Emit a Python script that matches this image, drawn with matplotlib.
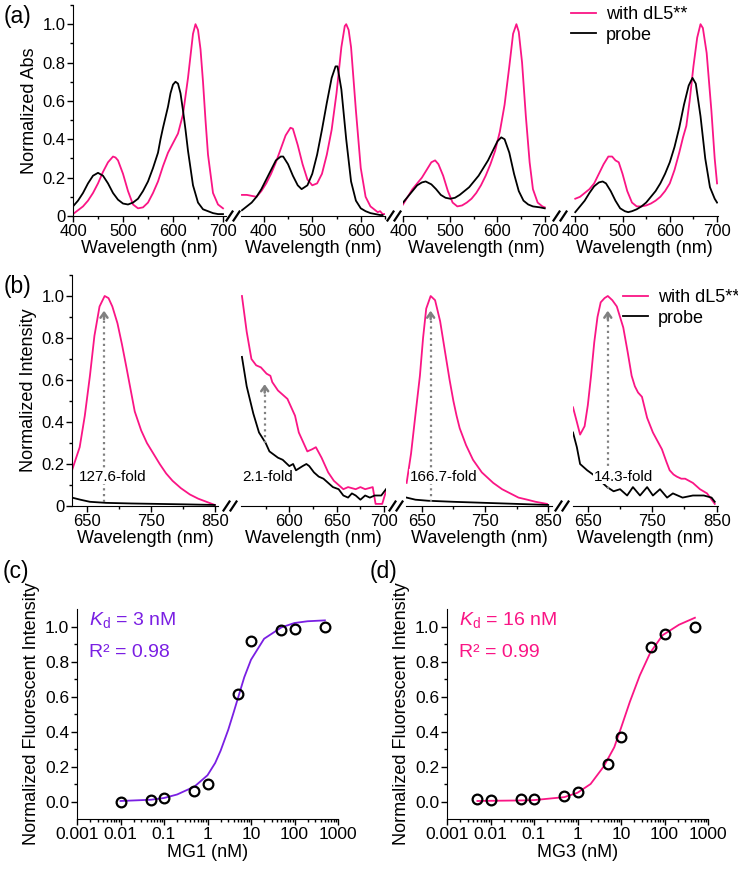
import matplotlib
matplotlib.use('Agg')
import matplotlib.pyplot as plt
from matplotlib.lines import Line2D
from matplotlib.ticker import MultipleLocator, FuncFormatter, FixedLocator, LogLocator, NullFormatter

plt.rcParams['font.family'] = ['Liberation Sans', 'DejaVu Sans']
plt.rcParams['mathtext.fontset'] = 'custom'
plt.rcParams['mathtext.rm'] = 'Liberation Sans'
plt.rcParams['mathtext.it'] = 'Liberation Sans:italic'

PINK = '#FA1585'
PURPLE = '#7A1FE3'
GREY = '#808080'

# ---------------- (a) absorbance spectra ----------------
a1_probe_wl = [400, 410, 420, 430, 440, 450, 460, 470, 480, 490, 500, 510, 520, 530, 540, 550, 560, 570, 575, 580,
               590, 595, 600, 605, 610, 615, 620, 625, 630, 640, 650, 660, 670, 680, 690, 700]
a1_probe_abs = [0.05, 0.08, 0.12, 0.17, 0.21, 0.225, 0.21, 0.17, 0.12, 0.085, 0.065, 0.06, 0.07, 0.09, 0.13, 0.18,
                0.25, 0.33, 0.40, 0.46, 0.57, 0.64, 0.685, 0.70, 0.69, 0.64, 0.55, 0.45, 0.34, 0.16, 0.07, 0.035,
                0.025, 0.015, 0.01, 0.01]
a1_dl5_wl = [400, 410, 420, 430, 440, 450, 460, 470, 480, 485, 490, 500, 510, 520, 530, 540, 550, 560, 570, 580,
             590, 600, 610, 620, 630, 640, 645, 650, 655, 660, 665, 670, 680, 690, 700]
a1_dl5_abs = [0.01, 0.03, 0.05, 0.08, 0.12, 0.17, 0.23, 0.28, 0.31, 0.305, 0.29, 0.22, 0.13, 0.06, 0.04, 0.045,
              0.07, 0.12, 0.18, 0.26, 0.33, 0.38, 0.43, 0.53, 0.72, 0.95, 1.0, 0.97, 0.87, 0.70, 0.50, 0.32, 0.12,
              0.06, 0.04]

a2_probe_wl = [355, 365, 375, 385, 395, 405, 415, 425, 435, 440, 450, 460, 470, 478, 490, 500, 510, 520, 530, 540,
               548, 552, 560, 570, 580, 590, 600, 610, 620, 630, 640, 645]
a2_probe_abs = [0.03, 0.05, 0.07, 0.10, 0.14, 0.19, 0.24, 0.29, 0.31, 0.31, 0.27, 0.21, 0.16, 0.14, 0.16, 0.22,
                0.32, 0.45, 0.59, 0.72, 0.78, 0.78, 0.66, 0.40, 0.18, 0.08, 0.04, 0.025, 0.015, 0.01, 0.005, 0.005]
a2_dl5_wl = [355, 365, 375, 385, 395, 405, 415, 425, 435, 445, 455, 460, 470, 480, 490, 500, 510, 520, 530, 540,
             550, 560, 567, 570, 575, 580, 590, 600, 610, 620, 630, 635, 640, 645, 650]
a2_dl5_abs = [0.11, 0.11, 0.105, 0.10, 0.13, 0.17, 0.22, 0.28, 0.35, 0.42, 0.46, 0.455, 0.37, 0.27, 0.19, 0.16,
              0.17, 0.22, 0.32, 0.45, 0.64, 0.88, 0.99, 1.0, 0.97, 0.88, 0.55, 0.25, 0.10, 0.05, 0.03, 0.02, 0.025,
              0.01, 0.01]

a3_probe_wl = [400, 410, 420, 430, 440, 448, 460, 470, 480, 490, 500, 510, 520, 530, 540, 550, 560, 570, 580, 590,
               600, 608, 615, 625, 635, 645, 655, 665, 675, 690, 700]
a3_probe_abs = [0.07, 0.10, 0.13, 0.16, 0.175, 0.18, 0.165, 0.14, 0.11, 0.095, 0.09, 0.095, 0.11, 0.13, 0.15, 0.18,
                0.21, 0.25, 0.29, 0.34, 0.39, 0.41, 0.40, 0.33, 0.22, 0.13, 0.08, 0.06, 0.05, 0.045, 0.04]
a3_dl5_wl = [400, 410, 420, 430, 440, 450, 460, 468, 475, 485, 495, 505, 515, 525, 535, 545, 555, 565, 575, 585,
             595, 605, 615, 625, 633, 640, 645, 652, 660, 668, 675, 685, 695, 700]
a3_dl5_abs = [0.06, 0.10, 0.14, 0.17, 0.20, 0.24, 0.28, 0.29, 0.27, 0.21, 0.13, 0.07, 0.05, 0.055, 0.07, 0.09,
              0.12, 0.16, 0.21, 0.27, 0.34, 0.44, 0.58, 0.78, 0.95, 1.0, 0.96, 0.80, 0.52, 0.28, 0.14, 0.07, 0.05,
              0.045]

a4_probe_wl = [400, 410, 420, 430, 440, 450, 458, 465, 475, 485, 495, 505, 512, 520, 530, 540, 550, 560, 570, 580,
               590, 600, 610, 620, 630, 640, 648, 655, 665, 675, 685, 695, 700]
a4_probe_abs = [0.02, 0.05, 0.08, 0.12, 0.155, 0.175, 0.18, 0.17, 0.13, 0.08, 0.04, 0.025, 0.02, 0.025, 0.035,
                0.05, 0.07, 0.10, 0.13, 0.17, 0.22, 0.28, 0.36, 0.46, 0.58, 0.68, 0.72, 0.69, 0.52, 0.30, 0.15,
                0.09, 0.07]
a4_dl5_wl = [400, 410, 420, 430, 440, 450, 460, 470, 478, 485, 492, 500, 510, 520, 530, 540, 550, 560, 570, 580,
             590, 600, 610, 620, 628, 635, 642, 650, 658, 665, 670, 678, 688, 695, 700]
a4_dl5_abs = [0.09, 0.10, 0.12, 0.14, 0.17, 0.22, 0.27, 0.31, 0.31, 0.29, 0.28, 0.22, 0.13, 0.07, 0.05, 0.05,
              0.055, 0.065, 0.08, 0.10, 0.13, 0.17, 0.24, 0.33, 0.41, 0.47, 0.60, 0.78, 0.93, 1.0, 0.98, 0.85,
              0.55, 0.30, 0.17]

# ---------------- (b) fluorescence spectra ----------------
b1_probe_wl = [627, 640, 655, 680, 720, 760, 800, 850]
b1_probe_int = [0.04, 0.03, 0.02, 0.015, 0.012, 0.01, 0.008, 0.005]
b1_dl5_wl = [627, 639, 647, 655, 662, 670, 678, 684, 690, 698, 705, 712, 725, 735, 744, 754, 764, 774, 784, 797,
             811, 824, 837, 850]
b1_dl5_int = [0.17, 0.28, 0.43, 0.62, 0.81, 0.95, 1.0, 0.99, 0.95, 0.87, 0.77, 0.66, 0.45, 0.36, 0.30, 0.25, 0.20,
              0.155, 0.12, 0.085, 0.055, 0.035, 0.02, 0.005]

b2_probe_wl = [550, 555, 562, 568, 575, 579, 582, 588, 593, 600, 604, 607, 614, 618, 621, 626, 631, 636, 641, 646,
               652, 657, 662, 666, 670, 675, 680, 685, 690, 697, 702]
b2_probe_int = [0.71, 0.57, 0.44, 0.35, 0.30, 0.26, 0.25, 0.23, 0.22, 0.19, 0.20, 0.17, 0.19, 0.20, 0.19, 0.16,
                0.14, 0.13, 0.11, 0.09, 0.08, 0.05, 0.04, 0.06, 0.05, 0.03, 0.05, 0.04, 0.05, 0.05, 0.08]
b2_dl5_wl = [550, 555, 560, 565, 570, 576, 580, 582, 588, 593, 598, 602, 606, 610, 615, 619, 624, 628, 634, 641,
             647, 652, 657, 662, 670, 675, 680, 688, 691, 698, 702]
b2_dl5_int = [1.0, 0.83, 0.70, 0.67, 0.66, 0.63, 0.62, 0.59, 0.55, 0.53, 0.51, 0.47, 0.43, 0.35, 0.30, 0.26, 0.27,
              0.28, 0.23, 0.16, 0.12, 0.10, 0.08, 0.09, 0.08, 0.09, 0.08, 0.09, 0.01, 0.01, 0.07]

b3_probe_wl = [626, 640, 660, 700, 750, 800, 850]
b3_probe_int = [0.04, 0.03, 0.025, 0.02, 0.015, 0.01, 0.005]
b3_dl5_wl = [626, 633, 639, 647, 652, 657, 664, 671, 679, 687, 694, 700, 705, 710, 720, 731, 745, 763, 777, 790,
             803, 817, 830, 848]
b3_dl5_int = [0.11, 0.25, 0.41, 0.62, 0.80, 0.94, 1.0, 0.98, 0.88, 0.73, 0.60, 0.50, 0.43, 0.37, 0.29, 0.22, 0.16,
              0.11, 0.08, 0.06, 0.04, 0.03, 0.02, 0.01]

b4_probe_wl = [627, 633, 638, 649, 658, 669, 680, 690, 700, 711, 720, 731, 742, 751, 762, 773, 782, 797, 813, 830,
               842, 847]
b4_probe_int = [0.35, 0.28, 0.20, 0.17, 0.15, 0.12, 0.09, 0.07, 0.08, 0.05, 0.09, 0.05, 0.09, 0.05, 0.08, 0.04,
                0.06, 0.04, 0.05, 0.05, 0.04, 0.02]
b4_dl5_wl = [627, 633, 638, 645, 650, 655, 660, 665, 670, 676, 681, 688, 695, 700, 705, 712, 718, 723, 728, 734,
             742, 751, 758, 765, 772, 777, 783, 788, 795, 801, 807, 813, 824, 835, 847]
b4_dl5_int = [0.47, 0.40, 0.34, 0.38, 0.48, 0.62, 0.78, 0.90, 0.97, 0.99, 1.0, 0.98, 0.95, 0.90, 0.85, 0.73, 0.62,
              0.57, 0.54, 0.52, 0.42, 0.35, 0.31, 0.27, 0.21, 0.17, 0.15, 0.14, 0.13, 0.13, 0.12, 0.11, 0.08, 0.06,
              0.01]

fold_labels = ['127.6-fold', '2.1-fold', '166.7-fold', '14.3-fold']
fold_arrow_wl = [677, 574, 664, 681]
fold_arrow_from = [0.02, 0.30, 0.02, 0.08]
fold_arrow_to = [0.93, 0.58, 0.93, 0.93]
fold_text_wl = [691, 577, 685, 705]

# ---------------- (c), (d) binding curves ----------------
mg1_conc = [0.01, 0.05, 0.1, 0.5, 1, 5, 10, 50, 100, 500]
mg1_int = [0.0, 0.01, 0.02, 0.06, 0.10, 0.615, 0.92, 0.98, 0.985, 1.0]
mg1_fit_conc = [0.01, 0.05, 0.1, 0.2, 0.5, 1, 1.5, 2, 3, 4, 5, 7, 10, 20, 50, 100, 200, 500]
mg1_fit_int = [0.003, 0.01, 0.02, 0.04, 0.085, 0.15, 0.22, 0.29, 0.41, 0.51, 0.59, 0.71, 0.81, 0.93, 0.995, 1.02,
               1.03, 1.035]

mg3_conc = [0.005, 0.01, 0.05, 0.1, 0.5, 1, 5, 10, 50, 100, 500]
mg3_int = [0.013, 0.006, 0.013, 0.017, 0.034, 0.053, 0.214, 0.37, 0.884, 0.956, 1.0]
mg3_fit_conc = [0.005, 0.01, 0.05, 0.1, 0.5, 1, 2, 4, 7, 10, 16, 27, 47, 90, 215, 500]
mg3_fit_int = [0.003, 0.004, 0.006, 0.008, 0.025, 0.05, 0.10, 0.20, 0.31, 0.42, 0.57, 0.72, 0.85, 0.95, 1.01, 1.05]

W, H = 738, 871
fig = plt.figure(figsize=(W / 100, H / 100), dpi=100)


def px_axes(x0, x1, ytop, ybot):
    """ Add an axes given by pixel edges of the figure """
    return fig.add_axes([x0 / W, 1 - ybot / H, (x1 - x0) / W, (ybot - ytop) / H])


def zero_fmt(v, pos):
    return '0' if abs(v) < 1e-9 else f'{v:.1f}'


def style_spectrum(ax, xlim, major, minor, first):
    ax.set_xlim(*xlim)
    ax.set_ylim(0, 1.1)
    ax.patch.set_alpha(0)
    for side in ['top', 'right']:
        ax.spines[side].set_visible(False)
    ax.xaxis.set_major_locator(FixedLocator(major))
    ax.xaxis.set_minor_locator(FixedLocator(minor))
    ax.tick_params(which='both', direction='out', width=1, labelsize=12, pad=1.5)
    ax.tick_params(which='major', length=4)
    ax.tick_params(which='minor', length=2)
    if first:
        ax.yaxis.set_major_locator(MultipleLocator(0.2))
        ax.yaxis.set_minor_locator(MultipleLocator(0.1))
        ax.yaxis.set_major_formatter(FuncFormatter(zero_fmt))
    else:
        ax.spines['left'].set_visible(False)
        ax.tick_params(axis='y', which='both', left=False, labelleft=False)
    ax.set_xlabel('Wavelength (nm)', fontsize=13, labelpad=1)


def draw_break(xc, yc):
    for dx in (-3.5, 3.5):
        fig.add_artist(Line2D([(xc + dx - 3) / W, (xc + dx + 3) / W],
                              [1 - (yc + 4.5) / H, 1 - (yc - 4.5) / H],
                              color='black', lw=1.6, transform=fig.transFigure))


# panel (a)
A_MAJ = [400, 500, 600, 700]
A_MIN = [350, 450, 550, 650]
a_boxes = [(73, 226, [400, 706]), (241, 385, [353, 650]), (403, 549, [400, 709]), (571, 718, [391, 702])]
a_data = [(a1_probe_wl, a1_probe_abs, a1_dl5_wl, a1_dl5_abs),
          (a2_probe_wl, a2_probe_abs, a2_dl5_wl, a2_dl5_abs),
          (a3_probe_wl, a3_probe_abs, a3_dl5_wl, a3_dl5_abs),
          (a4_probe_wl, a4_probe_abs, a4_dl5_wl, a4_dl5_abs)]
a_axes = []
for i, ((x0, x1, xlim), (pw, pv, dw, dv)) in enumerate(zip(a_boxes, a_data)):
    ax = px_axes(x0, x1, 5, 216)
    l_dl5, = ax.plot(dw, dv, color=PINK, lw=1.3, label='with dL5**')
    l_probe, = ax.plot(pw, pv, color='black', lw=1.3, label='probe')
    style_spectrum(ax, xlim, A_MAJ, A_MIN, i == 0)
    a_axes.append(ax)
a_axes[0].set_ylabel('Normalized Abs', fontsize=13, labelpad=3)
a_axes[3].legend(handles=[l_dl5, l_probe], loc='upper left', bbox_to_anchor=(571 / W, 1 - 6 / H),
                 bbox_transform=fig.transFigure, frameon=False, fontsize=13, handlelength=1.4,
                 handletextpad=0.55, labelspacing=0.2, borderpad=0, borderaxespad=0)
for xc in (233, 394, 560):
    draw_break(xc, 216)

# panel (b)
B_MAJ = [650, 750, 850]
B_MIN = [700, 800]
b_boxes = [(72, 218, [627, 855], B_MAJ, B_MIN), (241, 386, [549, 702], [600, 650, 700], [575, 625, 675]),
           (406, 552, [625, 856], B_MAJ, B_MIN), (573, 718, [627, 852], B_MAJ, B_MIN)]
b_data = [(b1_probe_wl, b1_probe_int, b1_dl5_wl, b1_dl5_int),
          (b2_probe_wl, b2_probe_int, b2_dl5_wl, b2_dl5_int),
          (b3_probe_wl, b3_probe_int, b3_dl5_wl, b3_dl5_int),
          (b4_probe_wl, b4_probe_int, b4_dl5_wl, b4_dl5_int)]
b_axes = []
for i, ((x0, x1, xlim, major, minor), (pw, pv, dw, dv)) in enumerate(zip(b_boxes, b_data)):
    ax = px_axes(x0, x1, 275, 506)
    l_dl5, = ax.plot(dw, dv, color=PINK, lw=1.3, label='with dL5**')
    l_probe, = ax.plot(pw, pv, color='black', lw=1.3, label='probe')
    style_spectrum(ax, xlim, major, minor, i == 0)
    xa = fold_arrow_wl[i]
    ax.plot([xa, xa], [fold_arrow_from[i], fold_arrow_to[i] - 0.02], color=GREY, lw=1.6,
            ls=(0, (1, 1.6)), zorder=3)
    ax.annotate('', xy=(xa, fold_arrow_to[i]), xytext=(xa, fold_arrow_to[i] - 0.04),
                arrowprops=dict(arrowstyle='->,head_length=0.35,head_width=0.25', color=GREY, lw=1.8,
                                shrinkA=0, shrinkB=0), zorder=3)
    ax.text(fold_text_wl[i], 0.14, fold_labels[i], fontsize=11, ha='center', va='center', zorder=4,
            bbox=dict(facecolor='white', edgecolor='none', pad=0.6))
    b_axes.append(ax)
b_axes[0].set_ylabel('Normalized Intensity', fontsize=13, labelpad=3)
b_axes[3].legend(handles=[l_dl5, l_probe], loc='upper left', bbox_to_anchor=(623 / W, 1 - 289 / H),
                 bbox_transform=fig.transFigure, frameon=False, fontsize=13, handlelength=1.4,
                 handletextpad=0.55, labelspacing=0.2, borderpad=0, borderaxespad=0)
for xc in (230, 396, 562):
    draw_break(xc, 506)

# panels (c) and (d)
bind_sets = [(77, mg1_conc, mg1_int, mg1_fit_conc, mg1_fit_int, PURPLE, 'MG1 (nM)', '3', '0.98'),
             (447, mg3_conc, mg3_int, mg3_fit_conc, mg3_fit_int, PINK, 'MG3 (nM)', '16', '0.99')]
for x0, conc, inten, fconc, fint, col, xlab, kd, r2 in bind_sets:
    ax = px_axes(x0, x0 + 261, 609, 819)
    ax.plot(fconc, fint, color=col, lw=1.3, zorder=2)
    ax.plot(conc, inten, 'o', mfc='none', mec='black', ms=7, mew=1.6, zorder=3, clip_on=False)
    ax.set_xscale('log')
    ax.set_xlim(0.001, 1000)
    ax.set_ylim(-0.1, 1.1)
    for side in ['top', 'right']:
        ax.spines[side].set_visible(False)
    ax.xaxis.set_major_locator(FixedLocator([0.001, 0.01, 0.1, 1, 10, 100, 1000]))
    ax.xaxis.set_major_formatter(FuncFormatter(lambda v, p: f'{v:g}'))
    ax.xaxis.set_minor_locator(LogLocator(base=10, subs=range(2, 10)))
    ax.xaxis.set_minor_formatter(NullFormatter())
    ax.yaxis.set_major_locator(FixedLocator([0, 0.2, 0.4, 0.6, 0.8, 1.0]))
    ax.yaxis.set_major_formatter(FuncFormatter(lambda v, p: f'{v:.1f}'))
    ax.yaxis.set_minor_locator(FixedLocator([0.1, 0.3, 0.5, 0.7, 0.9]))
    ax.tick_params(which='both', direction='out', width=1, labelsize=12.5, pad=1.5)
    ax.tick_params(which='major', length=4)
    ax.tick_params(which='minor', length=2)
    ax.set_xlabel(xlab, fontsize=13, labelpad=2)
    ax.set_ylabel('Normalized Fluorescent Intensity', fontsize=13, labelpad=4)
    ax.text(0.045, 0.95, r'$\mathit{K}_{\mathrm{d}}$' + f' = {kd} nM', transform=ax.transAxes, color=col,
            fontsize=14, ha='left', va='center')
    ax.text(0.045, 0.795, f'R\u00b2 = {r2}', transform=ax.transAxes, color=col, fontsize=14,
            ha='left', va='center')

# panel letters
for lab, xp, yp in [('(a)', 4, 16), ('(b)', 4, 286), ('(c)', 3, 571), ('(d)', 370, 571)]:
    fig.text(xp / W, 1 - yp / H, lab, fontsize=16.5, ha='left', va='center')

fig.savefig('out.png', dpi=100)
